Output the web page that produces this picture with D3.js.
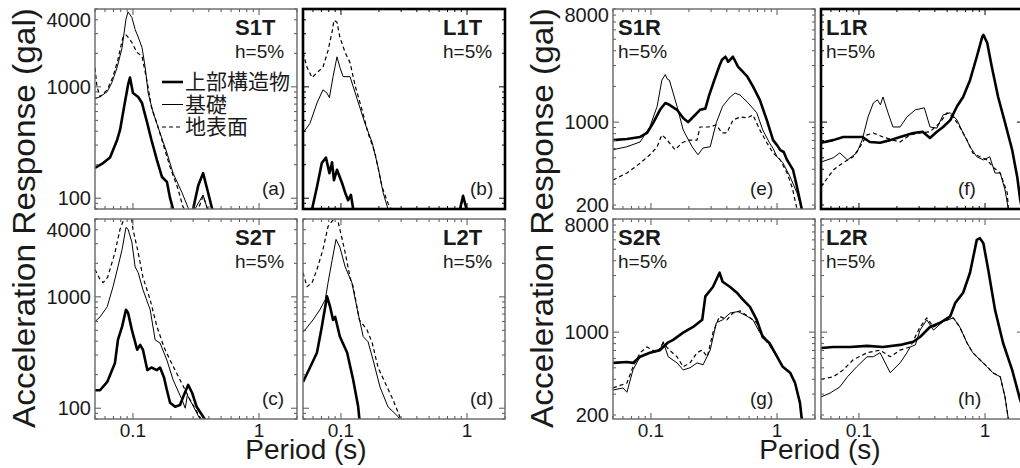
<!DOCTYPE html>
<html>
<head>
<meta charset="utf-8">
<script src="https://cdn.jsdelivr.net/npm/d3@7"></script>
<style>
  body { margin: 0; background: #fff; }
  text { font-family: "Liberation Sans", Arial, sans-serif; fill: #1a1a1a; }
  .jp { font-family: "Noto Sans CJK JP", sans-serif; }
</style>
</head>
<body>
<svg id="chart" width="1020" height="468"></svg>
<script>
// series: [period (s), acceleration (gal)]
// top = 上部構造物 (thick), base = 基礎 (thin), ground = 地表面 (dashed)
var a_top = [[0.05,187],[0.058,207],[0.0658,232],[0.075,335],[0.079,410],[0.085,660],[0.0914,1040],[0.0947,1210],[0.1,880],[0.11,810],[0.118,715],[0.13,470],[0.14,335],[0.155,220],[0.17,155],[0.186,140],[0.197,100],[0.208,80],[0.236,60],[0.3,80],[0.33,131],[0.36,168],[0.39,118],[0.425,80],[0.49,50]];
var a_base = [[0.05,782],[0.0548,815],[0.0625,905],[0.068,1090],[0.075,1500],[0.082,2250],[0.088,4050],[0.0914,4700],[0.098,4200],[0.104,3280],[0.11,2800],[0.118,2250],[0.125,1500],[0.132,880],[0.145,580],[0.164,385],[0.186,255],[0.208,168],[0.245,112],[0.274,82],[0.29,70],[0.31,80],[0.36,107],[0.39,80],[0.45,60]];
var a_ground = [[0.05,1480],[0.0518,1010],[0.0548,815],[0.0625,940],[0.0695,1235],[0.076,1760],[0.083,2750],[0.088,2930],[0.0914,2800],[0.098,2500],[0.108,2030],[0.118,1880],[0.13,1090],[0.14,660],[0.155,470],[0.176,290],[0.197,190],[0.225,126],[0.25,83],[0.29,68],[0.33,80],[0.36,105],[0.39,80],[0.45,60]];

var b_top = [[0.05,50],[0.059,80],[0.0645,126],[0.0705,207],[0.076,232],[0.081,168],[0.085,210],[0.088,145],[0.093,180],[0.102,137],[0.108,112],[0.114,96],[0.12,107],[0.125,80],[0.14,60],[0.5,50],[0.88,80],[0.93,105],[0.99,80],[1.1,60]];
var b_base = [[0.05,385],[0.0568,470],[0.0645,715],[0.072,940],[0.0775,880],[0.081,800],[0.0866,1235],[0.093,1860],[0.098,1500],[0.104,1235],[0.118,1235],[0.135,765],[0.155,470],[0.177,315],[0.197,190],[0.216,112],[0.236,80],[0.27,60]];
var b_ground = [[0.05,2030],[0.0538,1500],[0.059,1210],[0.0645,1340],[0.072,1500],[0.079,2120],[0.085,3100],[0.088,3960],[0.093,3800],[0.098,2800],[0.108,2030],[0.118,1650],[0.13,1010],[0.147,620],[0.164,385],[0.186,255],[0.212,126],[0.236,90],[0.25,80],[0.28,60]];

var c_top = [[0.05,145],[0.0548,145],[0.0625,172],[0.072,255],[0.076,410],[0.082,540],[0.088,765],[0.0914,720],[0.098,505],[0.108,335],[0.114,370],[0.12,335],[0.13,220],[0.14,232],[0.155,220],[0.164,232],[0.176,190],[0.186,145],[0.197,112],[0.216,103],[0.236,107],[0.25,126],[0.274,162],[0.295,137],[0.32,103],[0.37,80],[0.42,60]];
var c_base = [[0.05,600],[0.0548,660],[0.0625,815],[0.0695,1235],[0.076,1860],[0.082,2660],[0.088,4200],[0.0914,4050],[0.098,3100],[0.104,1860],[0.11,1650],[0.12,1160],[0.137,765],[0.15,410],[0.164,385],[0.186,270],[0.208,180],[0.245,119],[0.26,100],[0.27,131],[0.3,105],[0.34,80],[0.4,60]];
var c_ground = [[0.05,1760],[0.0548,1430],[0.058,1340],[0.063,1500],[0.072,2500],[0.079,4050],[0.083,4700],[0.09,5200],[0.098,4900],[0.1,4050],[0.11,2500],[0.12,1500],[0.137,940],[0.155,540],[0.176,355],[0.197,270],[0.236,180],[0.284,119],[0.34,83],[0.4,60]];

var d_top = [[0.05,172],[0.0568,232],[0.0645,315],[0.0705,540],[0.0775,1010],[0.082,815],[0.0866,620],[0.09,660],[0.098,440],[0.112,315],[0.125,180],[0.137,103],[0.14,80],[0.16,55]];
var d_base = [[0.05,480],[0.06,620],[0.068,765],[0.075,940],[0.079,1340],[0.085,2120],[0.0914,3280],[0.098,2800],[0.108,1860],[0.122,1340],[0.135,765],[0.15,440],[0.164,395],[0.18,270],[0.204,155],[0.236,103],[0.284,84],[0.32,65]];
var d_ground = [[0.05,1650],[0.0538,1235],[0.059,1340],[0.0645,1760],[0.072,2660],[0.079,4300],[0.0866,4900],[0.093,5200],[0.098,4050],[0.108,2500],[0.118,1500],[0.125,1235],[0.14,620],[0.161,505],[0.177,385],[0.197,232],[0.232,155],[0.259,119],[0.295,82],[0.33,65]];

var e_top = [[0.05,705],[0.0645,720],[0.082,750],[0.093,810],[0.104,980],[0.118,1270],[0.13,1450],[0.14,1400],[0.161,1270],[0.18,1085],[0.197,1000],[0.216,1105],[0.245,1270],[0.27,1300],[0.29,1700],[0.32,2300],[0.35,3000],[0.366,3360],[0.39,3560],[0.41,3230],[0.447,3560],[0.49,2940],[0.58,2430],[0.644,2000],[0.73,1540],[0.83,1040],[0.93,705],[1.0,640],[1.06,580],[1.13,560],[1.2,480],[1.34,395],[1.44,284],[1.57,185],[1.65,140]];
var e_base = [[0.05,585],[0.0645,620],[0.082,680],[0.098,910],[0.112,1360],[0.122,2260],[0.13,2520],[0.135,2300],[0.14,2260],[0.161,1360],[0.18,860],[0.212,620],[0.236,530],[0.259,605],[0.295,620],[0.33,990],[0.37,1360],[0.425,1630],[0.465,1760],[0.51,1690],[0.59,1450],[0.69,1200],[0.77,860],[0.87,670],[0.93,600],[1.0,510],[1.11,455],[1.27,345],[1.44,253],[1.57,185],[1.65,140]];
var e_ground = [[0.05,325],[0.0645,372],[0.082,450],[0.098,530],[0.112,620],[0.122,780],[0.13,735],[0.14,670],[0.155,585],[0.177,670],[0.197,705],[0.232,705],[0.245,910],[0.284,910],[0.33,945],[0.366,810],[0.4,810],[0.447,1040],[0.51,1105],[0.58,1085],[0.644,1150],[0.73,860],[0.83,670],[0.93,550],[1.06,480],[1.2,372],[1.32,280],[1.44,185],[1.5,150]];

var f_top = [[0.05,670],[0.0625,705],[0.075,750],[0.09,750],[0.106,750],[0.122,680],[0.147,670],[0.177,705],[0.212,750],[0.27,810],[0.32,830],[0.366,735],[0.415,830],[0.465,910],[0.53,1040],[0.6,1360],[0.67,1630],[0.76,2260],[0.86,3560],[0.95,5240],[0.97,5440],[1.04,4670],[1.13,2940],[1.27,1630],[1.44,990],[1.64,585],[1.8,345],[1.9,222],[2.0,170]];
var f_base = [[0.05,460],[0.0625,500],[0.0705,550],[0.081,480],[0.096,550],[0.106,705],[0.118,1105],[0.13,1450],[0.14,1540],[0.148,1400],[0.155,1630],[0.17,1200],[0.186,910],[0.212,910],[0.24,1105],[0.28,1270],[0.33,1320],[0.366,910],[0.415,890],[0.465,1150],[0.53,1200],[0.6,1040],[0.67,810],[0.76,620],[0.86,510],[0.97,480],[1.09,510],[1.2,372],[1.32,372],[1.44,268],[1.53,185],[1.6,140]];
var f_ground = [[0.05,284],[0.0625,395],[0.075,455],[0.09,510],[0.102,620],[0.116,780],[0.13,810],[0.155,750],[0.186,705],[0.212,680],[0.255,780],[0.305,810],[0.366,830],[0.44,990],[0.5,1200],[0.56,1105],[0.63,910],[0.72,705],[0.8,550],[0.91,510],[1.04,480],[1.15,420],[1.32,372],[1.5,253],[1.53,185],[1.6,140]];

var g_top = [[0.05,550],[0.0645,560],[0.072,550],[0.082,620],[0.098,670],[0.118,705],[0.135,810],[0.15,860],[0.18,990],[0.216,1105],[0.255,1270],[0.27,2000],[0.31,2400],[0.35,3170],[0.37,2660],[0.425,2400],[0.48,2150],[0.536,1880],[0.61,1630],[0.69,1270],[0.77,910],[0.87,810],[1.0,620],[1.11,510],[1.27,455],[1.39,372],[1.52,253],[1.57,185],[1.62,140]];
var g_base = [[0.05,325],[0.06,338],[0.0645,311],[0.072,480],[0.082,620],[0.098,670],[0.118,705],[0.125,830],[0.137,620],[0.161,550],[0.18,480],[0.204,500],[0.232,550],[0.259,530],[0.295,705],[0.33,1200],[0.37,1270],[0.425,1450],[0.49,1490],[0.58,1360],[0.644,1270],[0.73,990],[0.8,910],[0.87,780],[1.0,620],[1.11,510],[1.27,455],[1.39,372],[1.52,253],[1.57,185],[1.62,140]];
var g_ground = [[0.05,338],[0.0645,372],[0.072,510],[0.082,670],[0.093,750],[0.112,670],[0.125,810],[0.14,705],[0.161,620],[0.18,510],[0.204,550],[0.232,670],[0.255,705],[0.28,620],[0.31,990],[0.35,1360],[0.4,1270],[0.447,1450],[0.51,1510],[0.59,1360],[0.69,1200],[0.77,910],[0.87,780],[1.0,620],[1.11,510],[1.27,455],[1.39,372],[1.52,253],[1.57,185],[1.62,140]];

var h_top = [[0.05,735],[0.0625,750],[0.085,750],[0.116,765],[0.155,750],[0.212,780],[0.27,830],[0.305,910],[0.366,1105],[0.44,1200],[0.53,1360],[0.58,1760],[0.67,2150],[0.76,3170],[0.86,6000],[0.91,6200],[0.97,5620],[1.06,3360],[1.2,1540],[1.39,810],[1.64,480],[1.9,268],[2.0,230]];
var h_base = [[0.05,284],[0.059,306],[0.0705,345],[0.081,420],[0.096,510],[0.116,620],[0.13,620],[0.147,670],[0.177,455],[0.212,550],[0.24,670],[0.255,750],[0.28,780],[0.305,1040],[0.345,1270],[0.39,1040],[0.465,1230],[0.56,1320],[0.63,1105],[0.72,810],[0.8,670],[0.91,585],[1.04,510],[1.15,455],[1.32,420],[1.44,284],[1.53,185],[1.6,140]];
var h_ground = [[0.05,400],[0.0625,420],[0.075,480],[0.09,585],[0.116,670],[0.147,705],[0.177,620],[0.212,705],[0.255,750],[0.305,1105],[0.345,1320],[0.39,1105],[0.465,1230],[0.56,1320],[0.63,1105],[0.72,810],[0.8,670],[0.91,585],[1.04,510],[1.15,455],[1.32,420],[1.44,284],[1.53,185],[1.6,140]];

var xDomain = [0.05, 2];
var xLabels = [0.1, 1];
var yDomainT = [80, 5000], yLabelsT = [100, 1000, 4000];
var yDomainR = [185, 9000], yLabelsR = [200, 1000, 8000];
var legendNames = ['上部構造物', '基礎', '地表面'];

var W = 202, H = 200;
var svg = d3.select('#chart');

var groups = {
    T: {x0: 95, yDomain: yDomainT, yLabels: yLabelsT, nameX: W - 62, tagX: 167},
    R: {x0: 613, yDomain: yDomainR, yLabels: yLabelsR, nameX: 5, tagX: 137}
};

var panels = [
    {tag: '(a)', name: 'S1T', g: 'T', row: 0, col: 0, s: [a_top, a_base, a_ground], bold: false},
    {tag: '(b)', name: 'L1T', g: 'T', row: 0, col: 1, s: [b_top, b_base, b_ground], bold: true},
    {tag: '(c)', name: 'S2T', g: 'T', row: 1, col: 0, s: [c_top, c_base, c_ground], bold: false},
    {tag: '(d)', name: 'L2T', g: 'T', row: 1, col: 1, s: [d_top, d_base, d_ground], bold: false},
    {tag: '(e)', name: 'S1R', g: 'R', row: 0, col: 0, s: [e_top, e_base, e_ground], bold: false},
    {tag: '(f)', name: 'L1R', g: 'R', row: 0, col: 1, s: [f_top, f_base, f_ground], bold: true},
    {tag: '(g)', name: 'S2R', g: 'R', row: 1, col: 0, s: [g_top, g_base, g_ground], bold: false},
    {tag: '(h)', name: 'L2R', g: 'R', row: 1, col: 1, s: [h_top, h_base, h_ground], bold: false}
];

var seriesStyle = [
    {w: 2.6, dash: null},
    {w: 1, dash: null},
    {w: 1.2, dash: '4,3'}
];

var x = d3.scaleLog().domain(xDomain).range([0, W]);
var defs = svg.append('defs');
defs.append('clipPath').attr('id', 'clip')
    .append('rect').attr('width', W).attr('height', H);

function isMajor(v) {
    var l = Math.log10(v);
    return Math.abs(l - Math.round(l)) < 1e-6;
}

panels.forEach(function(p) {
    var grp = groups[p.g];
    var y = d3.scaleLog().domain(grp.yDomain).range([H, 0]);
    var px = grp.x0 + p.col * 208, py = p.row === 0 ? 9 : 219;
    var el = svg.append('g').attr('transform', 'translate(' + px + ',' + py + ')');
    var tickCol = p.bold ? '#000' : '#555';

    var line = d3.line().x(d => x(d[0])).y(d => y(d[1]));
    el.append('g').attr('clip-path', 'url(#clip)')
        .selectAll('path')
        .data(p.s)
        .enter().append('path')
        .attr('d', line)
        .attr('fill', 'none')
        .attr('stroke', '#000')
        .attr('stroke-linejoin', 'round')
        .attr('stroke-width', (d, i) => seriesStyle[i].w)
        .attr('stroke-dasharray', (d, i) => seriesStyle[i].dash);

    // inward ticks on all four sides
    var ticks = el.append('g').attr('stroke', tickCol).attr('stroke-width', 1);
    x.ticks().forEach(function(t) {
        var len = isMajor(t) ? 6 : 3, xx = x(t);
        ticks.append('line').attr('x1', xx).attr('x2', xx).attr('y1', H).attr('y2', H - len);
        ticks.append('line').attr('x1', xx).attr('x2', xx).attr('y1', 0).attr('y2', len);
    });
    y.ticks().forEach(function(t) {
        var len = isMajor(t) ? 6 : 3, yy = y(t);
        ticks.append('line').attr('y1', yy).attr('y2', yy).attr('x1', 0).attr('x2', len);
        ticks.append('line').attr('y1', yy).attr('y2', yy).attr('x1', W).attr('x2', W - len);
    });

    el.append('rect')
        .attr('width', W).attr('height', H)
        .attr('fill', 'none')
        .attr('stroke', p.bold ? '#000' : '#666')
        .attr('stroke-width', p.bold ? 2.6 : 1.4);

    if (p.row === 1) {
        el.selectAll('.xl').data(xLabels).enter().append('text')
            .attr('x', d => x(d)).attr('y', H + 18)
            .attr('text-anchor', 'middle')
            .attr('font-size', 19)
            .text(d => d);
    }
    if (p.col === 0) {
        el.selectAll('.yl').data(grp.yLabels).enter().append('text')
            .attr('x', -4).attr('y', d => y(d)).attr('dy', '0.36em')
            .attr('text-anchor', 'end')
            .attr('font-size', 20)
            .text(d => d);
    }

    el.append('text').attr('x', grp.nameX).attr('y', 26)
        .attr('font-size', 22).attr('font-weight', 'bold').text(p.name);
    el.append('text').attr('x', grp.nameX).attr('y', 49)
        .attr('font-size', 19).text('h=5%');
    el.append('text').attr('x', grp.tagX).attr('y', 186)
        .attr('font-size', 19).text(p.tag);
});

// legend inside panel (a)
var leg = svg.append('g').attr('transform', 'translate(162,82)');
legendNames.forEach(function(n, i) {
    var ly = i * 22.5;
    leg.append('line').attr('x1', 0).attr('x2', 21).attr('y1', ly).attr('y2', ly)
        .attr('stroke', '#000')
        .attr('stroke-width', seriesStyle[i].w)
        .attr('stroke-dasharray', seriesStyle[i].dash);
    leg.append('text').attr('class', 'jp').attr('x', 23).attr('y', ly + 7)
        .attr('font-size', 21).text(n);
});

// axis titles
[[35, 218], [553, 218]].forEach(function(pos) {
    svg.append('text')
        .attr('transform', 'translate(' + pos[0] + ',' + pos[1] + ') rotate(-90)')
        .attr('text-anchor', 'middle')
        .attr('font-size', 31)
        .attr('textLength', 420)
        .attr('lengthAdjust', 'spacingAndGlyphs')
        .text('Acceleration Response (gal)');
});
[306, 820].forEach(function(cx) {
    svg.append('text')
        .attr('x', cx).attr('y', 459)
        .attr('text-anchor', 'middle')
        .attr('font-size', 28)
        .text('Period (s)');
});
</script>
</body>
</html>
